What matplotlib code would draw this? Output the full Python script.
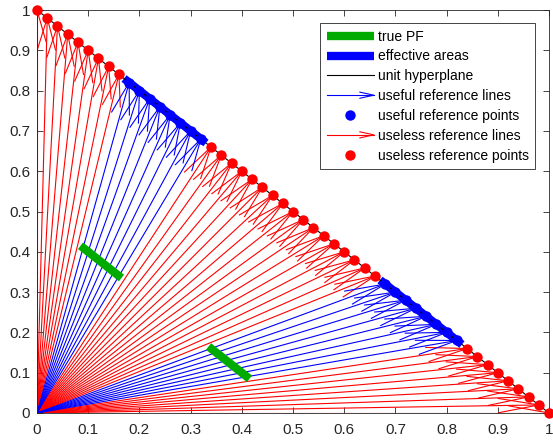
import numpy as np
import matplotlib
matplotlib.use('Agg')
import matplotlib.pyplot as plt
from matplotlib.collections import LineCollection
from matplotlib.lines import Line2D
from matplotlib.legend_handler import HandlerBase

plt.rcParams['font.family'] = ['Liberation Sans', 'DejaVu Sans']
plt.rcParams['xtick.direction'] = 'in'
plt.rcParams['ytick.direction'] = 'in'

# reference points on the unit hyperplane (x coordinate, y = 1 - x)
ref_x = np.array([
    0.00, 0.02, 0.04, 0.06, 0.08, 0.10, 0.12, 0.14, 0.16, 0.18,
    0.20, 0.22, 0.24, 0.26, 0.28, 0.30, 0.32, 0.34, 0.36, 0.38,
    0.40, 0.42, 0.44, 0.46, 0.48, 0.50, 0.52, 0.54, 0.56, 0.58,
    0.60, 0.62, 0.64, 0.66, 0.68, 0.70, 0.72, 0.74, 0.76, 0.78,
    0.80, 0.82, 0.84, 0.86, 0.88, 0.90, 0.92, 0.94, 0.96, 0.98,
    1.00])
# effective areas on hyperplane (x ranges)
eff_areas = [(0.17, 0.33), (0.67, 0.83)]
# true PF segments on x + y = 0.5 (x ranges)
pf_level = 0.5
pf_segs = [(0.085, 0.165), (0.335, 0.415)]

ref_y = 1 - ref_x
useful = np.zeros(len(ref_x), dtype=bool)
for a, b in eff_areas:
    useful |= (ref_x >= a) & (ref_x <= b)

RED = (1, 0, 0)
BLUE = (0, 0, 1)
GREEN = (0, 0.67, 0)

head_len = 0.08
head_w = 0.018


def arrow_segments(xs, ys):
    segs = []
    for x, y in zip(xs, ys):
        n = np.hypot(x, y)
        dx, dy = x / n, y / n
        px, py = -dy, dx
        bx, by = x - head_len * dx, y - head_len * dy
        segs.append([(0, 0), (x, y)])
        segs.append([(bx + head_w * px, by + head_w * py), (x, y),
                     (bx - head_w * px, by - head_w * py)])
    return segs


class ArrowHandler(HandlerBase):
    def create_artists(self, legend, orig_handle, xdescent, ydescent,
                       width, height, fontsize, trans):
        c = orig_handle.get_color()
        y = height / 2 - ydescent
        x0, x1 = -xdescent, width - xdescent
        line = Line2D([x0, x1], [y, y], color=c, lw=0.8)
        head = Line2D([x1 - 10, x1, x1 - 10], [y + 2.2, y, y - 2.2], color=c, lw=0.8)
        line.set_transform(trans)
        head.set_transform(trans)
        return [line, head]


fig = plt.figure(figsize=(5.53, 4.45), dpi=100)
ax = fig.add_axes([37 / 553, 32 / 445, 512 / 553, 403 / 445])

lc_red = LineCollection(arrow_segments(ref_x[~useful], ref_y[~useful]),
                        colors=[RED], linewidths=0.8)
lc_blue = LineCollection(arrow_segments(ref_x[useful], ref_y[useful]),
                         colors=[BLUE], linewidths=0.8)
ax.add_collection(lc_red)
ax.add_collection(lc_blue)

for a, b in pf_segs:
    h_pf, = ax.plot([a, b], [pf_level - a, pf_level - b], color=GREEN, lw=6,
                    solid_capstyle='butt')
for a, b in eff_areas:
    h_eff, = ax.plot([a, b], [1 - a, 1 - b], color=BLUE, lw=6,
                     solid_capstyle='butt')
h_hyp, = ax.plot([0, 1], [1, 0], color='k', lw=0.8)

h_up, = ax.plot(ref_x[useful], ref_y[useful], 'o', color=BLUE, ms=7.5,
                mec='none', clip_on=False, zorder=5)
h_np, = ax.plot(ref_x[~useful], ref_y[~useful], 'o', color=RED, ms=7.5,
                mec='none', clip_on=False, zorder=5)

h_ul = Line2D([], [], color=BLUE)
h_nl = Line2D([], [], color=RED)

ax.set_xlim(0, 1)
ax.set_ylim(0, 1)
ticks = np.arange(0, 1.01, 0.1)
labels = ['0'] + ['%.1f' % t for t in ticks[1:-1]] + ['1']
ax.set_xticks(ticks)
ax.set_xticklabels(labels)
ax.set_yticks(ticks)
ax.set_yticklabels(labels)
ax.tick_params(top=True, right=True, length=4, width=0.6, labelsize=11,
               colors=(0.15, 0.15, 0.15), pad=5)
ax.tick_params(axis='x', pad=7)
for s in ax.spines.values():
    s.set_color((0.15, 0.15, 0.15))
    s.set_linewidth(0.6)

leg = ax.legend([h_pf, h_eff, h_hyp, h_ul, h_up, h_nl, h_np],
                ['true PF', 'effective areas', 'unit hyperplane',
                 'useful reference lines', 'useful reference points',
                 'useless reference lines', 'useless reference points'],
                handler_map={h_ul: ArrowHandler(), h_nl: ArrowHandler()},
                loc='upper right', bbox_to_anchor=(0.973, 0.967),
                fontsize=10, handlelength=3.4, labelspacing=0.42,
                handletextpad=0.3, borderpad=0.45, borderaxespad=0,
                fancybox=False, framealpha=1, edgecolor=(0.15, 0.15, 0.15))
leg.get_frame().set_linewidth(0.6)

fig.savefig('out.png', dpi=100)
